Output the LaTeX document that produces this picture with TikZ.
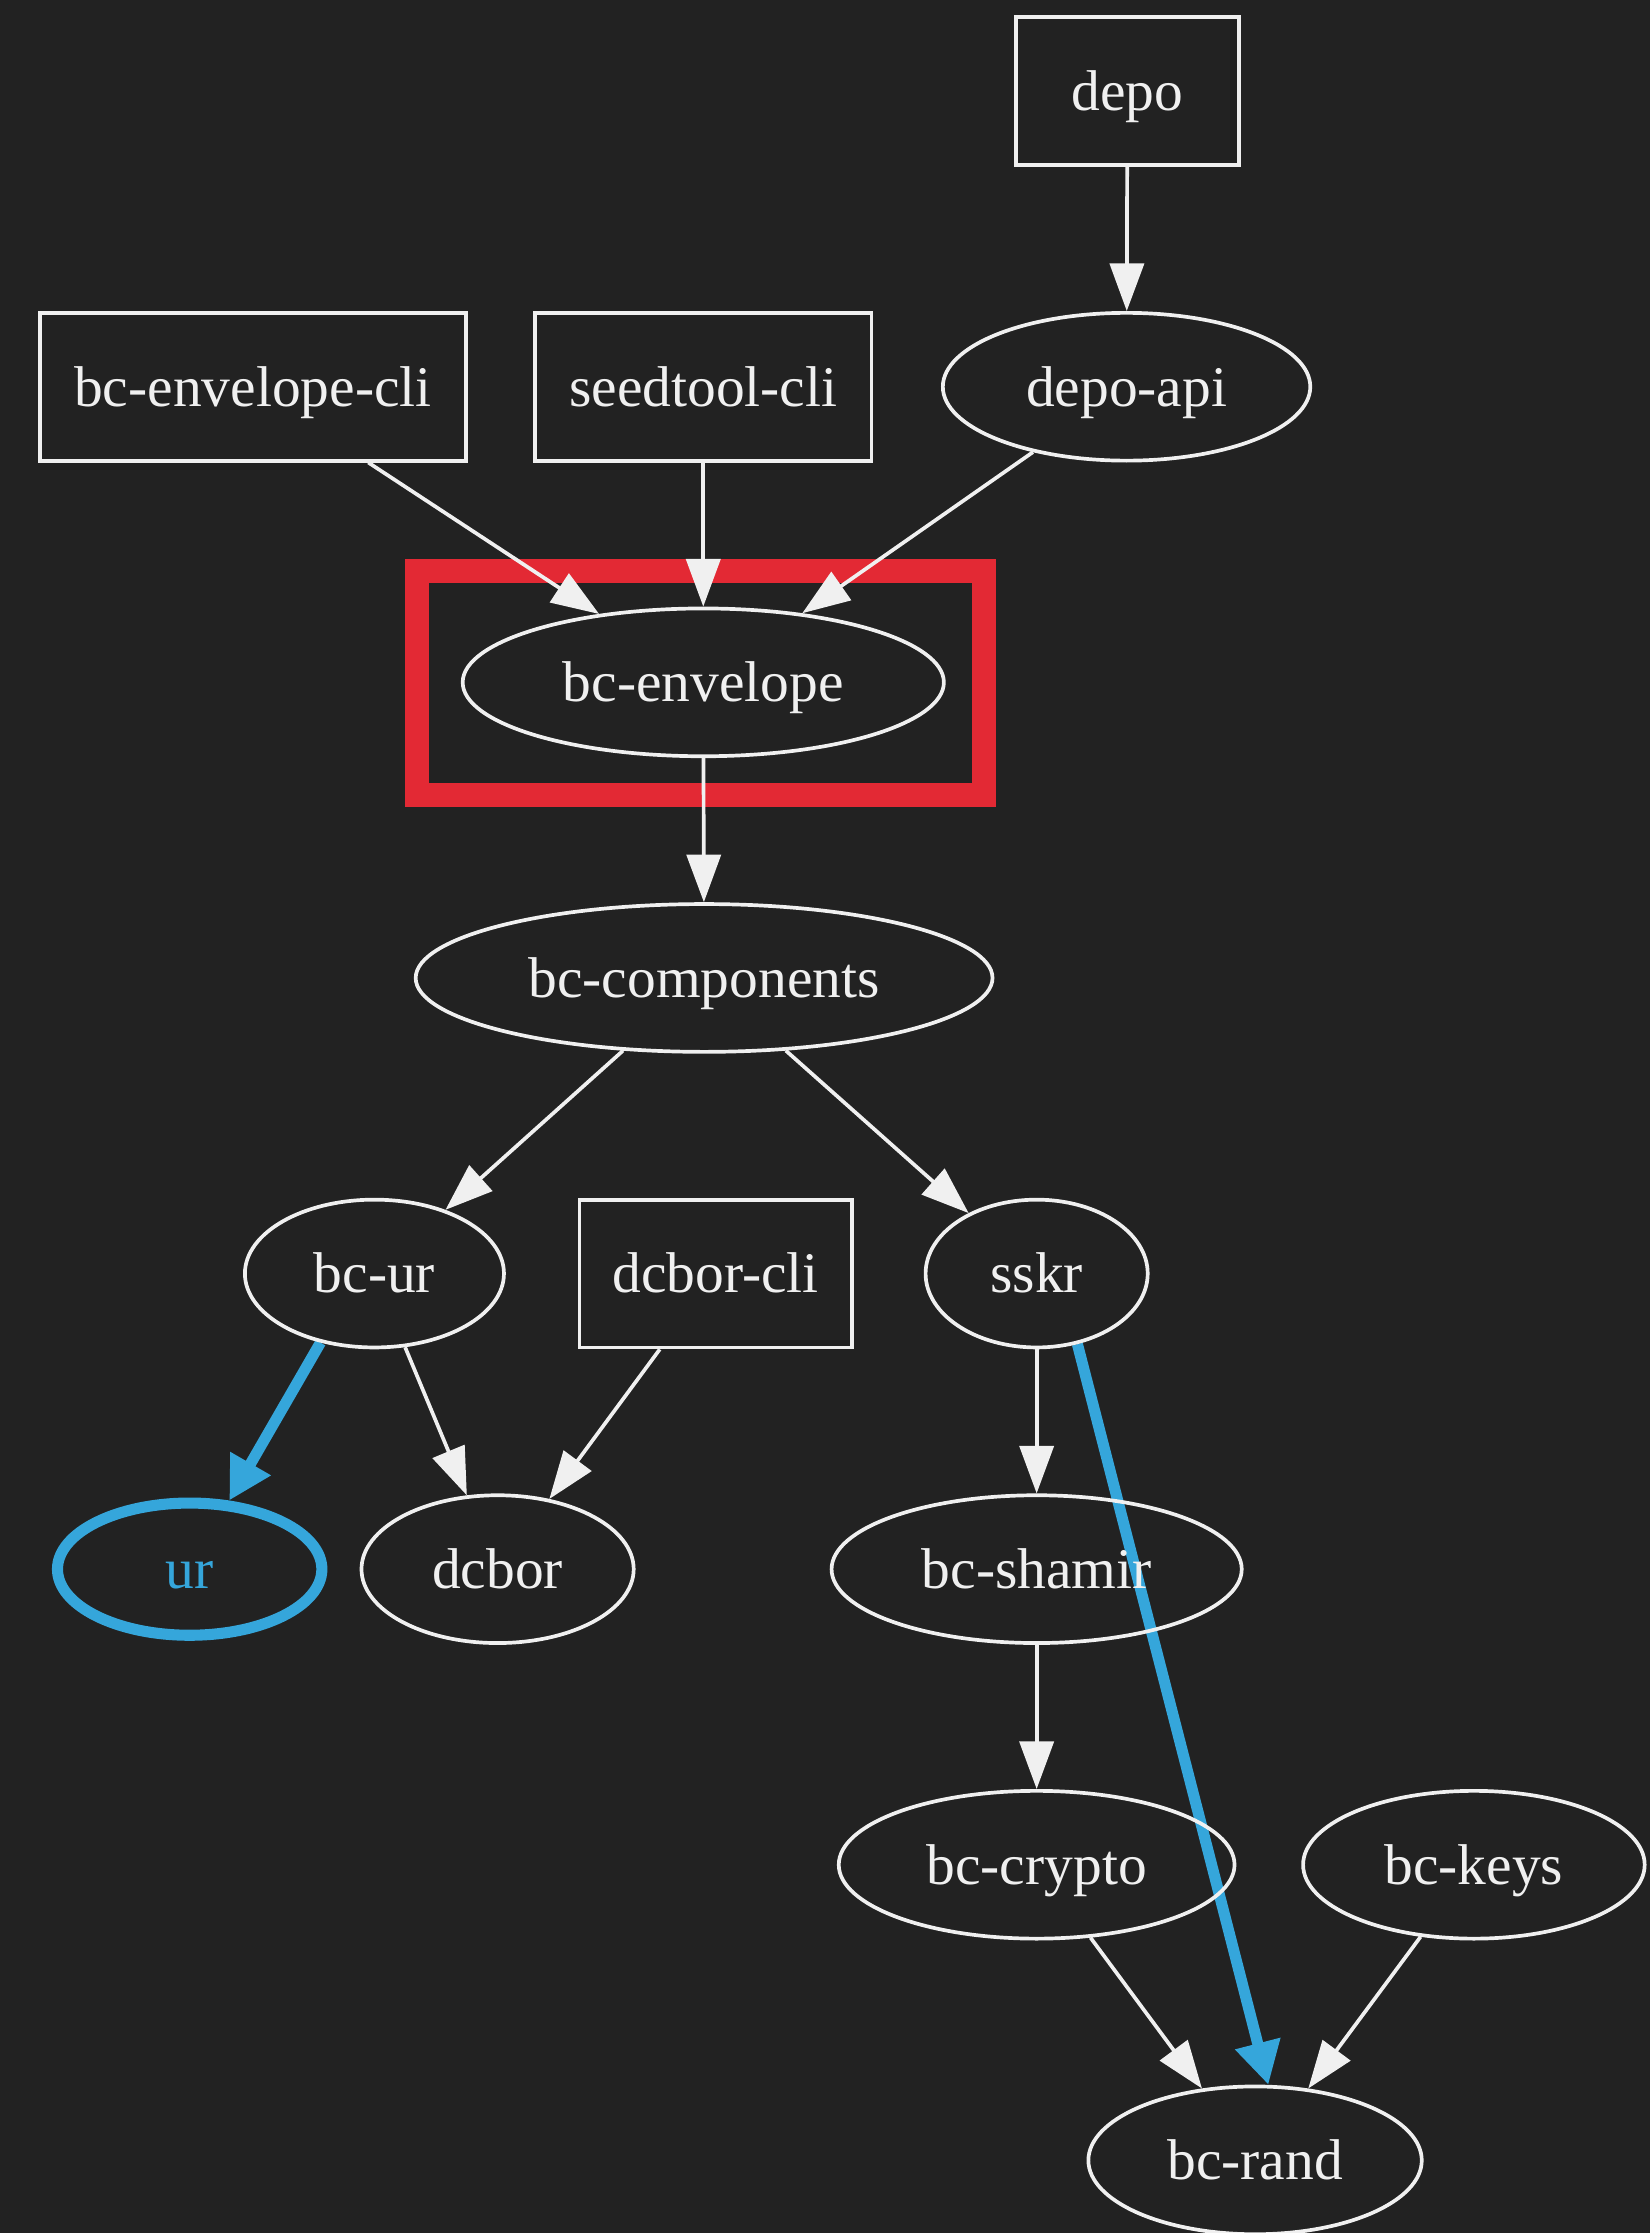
\documentclass[tikz,border=0pt]{standalone}
\usepackage{fontspec}
\setmainfont{Liberation Serif}
\usetikzlibrary{shapes.geometric,arrows.meta}
\definecolor{bgc}{HTML}{222222}
\definecolor{fg}{HTML}{F0F0F0}
\definecolor{hlred}{HTML}{E32934}
\definecolor{hlblue}{HTML}{35A6DB}
\pgfdeclarelayer{bglayer}
\pgfdeclarelayer{edgelayer}
\pgfsetlayers{bglayer,edgelayer,main}
\begin{document}
\begin{tikzpicture}[x=1pt,y=-1pt,
  base/.style={draw=fg, text=fg, line width=0.9pt, inner sep=0pt, minimum height=36pt,
    font=\fontsize{14}{16}\selectfont, text height=9.4pt, text depth=0pt},
  boxn/.style={base, rectangle},
  elln/.style={base, ellipse},
  dep/.style={draw=fg, line width=0.9pt, -{Triangle[length=11.6pt,width=8.3pt]}},
  hot/.style={draw=hlblue, line width=2.7pt, -{Triangle[length=10.4pt,width=10.7pt]}},
]
\useasboundingbox (0,0) rectangle (402,543.9);

% nodes
\node[boxn, minimum width=54.3pt] (depo) at (274.6,22.2) {depo};
\node[boxn, minimum width=103.7pt] (envcli) at (61.6,94.2) {bc-envelope-cli};
\node[boxn, minimum width=81.9pt] (seed) at (171.3,94.2) {seedtool-cli};
\node[elln, minimum width=89.5pt] (depoapi) at (274.4,94.2) {depo-api};
\node[elln, minimum width=117.2pt] (env) at (171.3,166.2) {bc-envelope};
\node[elln, minimum width=140.5pt] (comp) at (171.5,238.2) {bc-components};
\node[elln, minimum width=63.1pt] (bcur) at (91.2,310.2) {bc-ur};
\node[boxn, minimum width=66.3pt] (dcborcli) at (174.3,310.2) {dcbor-cli};
\node[elln, minimum width=54.1pt] (sskr) at (252.5,310.2) {sskr};
\node[elln, draw=hlblue, text=hlblue, line width=2.7pt, minimum width=64.4pt, minimum height=32.2pt] (ur) at (46.2,382.2) {ur};
\node[elln, minimum width=66.3pt] (dcbor) at (121.2,382.2) {dcbor};
\node[elln, minimum width=99.9pt] (shamir) at (252.5,382.2) {bc-shamir};
\node[elln, minimum width=96.4pt] (crypto) at (252.5,454.2) {bc-crypto};
\node[elln, minimum width=83.2pt] (keys) at (359.0,454.2) {bc-keys};
\node[elln, minimum width=81.2pt] (rand) at (305.7,526.2) {bc-rand};

% background and highlight box
\begin{pgfonlayer}{bglayer}
\fill[bgc] (0,0) rectangle (402,543.9);
\draw[hlred, line width=5.8pt] (101.5,139.1) rectangle (239.7,193.7);
\end{pgfonlayer}

% edges
\begin{pgfonlayer}{edgelayer}
\draw[dep] (depo) -- (depoapi);
\draw[dep] (envcli) -- (env);
\draw[dep] (seed) -- (env);
\draw[dep] (depoapi) -- (env);
\draw[dep] (env) -- (comp);
\draw[dep] (comp) -- (bcur);
\draw[dep] (comp) -- (sskr);
\draw[hot] (bcur.232) -- (ur.60);
\draw[dep] (bcur) -- (dcbor);
\draw[dep] (dcborcli) -- (dcbor);
\draw[dep] (sskr) -- (shamir);
\draw[hot] (sskr.-60) -- (rand.80);
\draw[dep] (shamir) -- (crypto);
\draw[dep] (crypto) -- (rand);
\draw[dep] (keys) -- (rand);
\end{pgfonlayer}
\end{tikzpicture}
\end{document}
